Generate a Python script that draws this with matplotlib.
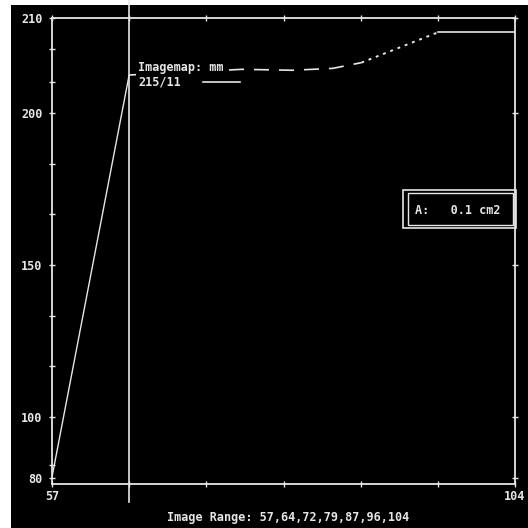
import numpy as np
import matplotlib
matplotlib.use('Agg')
import matplotlib.pyplot as plt
from matplotlib.patches import Rectangle
from matplotlib.lines import Line2D

# data
x_rise = [57, 64.83]
y_rise = [80.3, 204.0]
x_plateau = [64.83, 76.3, 81.4, 85.5, 88.4]
y_plateau = [204.0, 204.6, 204.5, 204.7, 205.3]
x_climb = [88.4, 96.2]
y_climb = [205.3, 208.5]
x_top = [96.2, 104]
y_top = [208.5, 208.5]

x_min, x_max = 57, 104
range_labels = [57, 64, 72, 79, 87, 96, 104]
y_major = [80, 100, 150, 200, 210]
y_minor = [84.3, 116.7, 133.3, 166.7, 183.3, 203.3, 206.7]

fg = '#e6e6e6'
mono = 'DejaVu Sans Mono'

# axis above 200 is stretched in the original
k = 3.125
def fwd(y):
    y = np.asarray(y, dtype=float)
    return np.where(y <= 200, y, 200 + (y - 200) * k)
def inv(u):
    u = np.asarray(u, dtype=float)
    return np.where(u <= 200, u, 200 + (u - 200) / k)

W = H = 528
fig = plt.figure(figsize=(5.28, 5.28), dpi=100, facecolor='white')
fig.add_artist(Rectangle((11 / W, 0), 1 - 11 / W, 1 - 5 / H,
                         transform=fig.transFigure, facecolor='black',
                         edgecolor='none', zorder=-10))

def fx(px):
    return px / W
def fy(px):
    return 1 - px / H

ax = fig.add_axes([fx(52), fy(484), fx(515) - fx(52), fy(18) - fy(484)])
ax.set_facecolor('black')
ax.set_yscale('function', functions=(fwd, inv))
ax.set_xlim(x_min, x_max)
ax.set_ylim(78, 210)

ax.plot(x_rise, y_rise, color=fg, lw=1.0)
ax.plot(x_plateau, y_plateau, color=fg, lw=1.2, dashes=(9, 6))
ax.plot(x_climb, y_climb, color=fg, lw=1.4, dashes=(1.5, 2.5))
ax.plot(x_top, y_top, color=fg, lw=1.2)

xt = np.linspace(x_min, x_max, 7)
ax.set_xticks(xt)
ax.set_xticklabels(['57', '', '', '', '', '', '104'])
ax.set_yticks(y_major)
ax.set_yticklabels([str(v) for v in y_major])
ax.set_yticks(y_minor, minor=True)

for s in ax.spines.values():
    s.set_color(fg)
    s.set_linewidth(1.3)

ax.tick_params(axis='both', which='both', colors=fg, direction='inout',
               length=4, width=1)
ax.tick_params(axis='x', top=True, labelsize=8.5, pad=2)
ax.tick_params(axis='y', right=True, labelsize=8.5, pad=5)
for lab in ax.get_xticklabels() + ax.get_yticklabels():
    lab.set_family(mono)
    lab.set_weight('bold')
    lab.set_color(fg)

# vertical marker line running past the frame
ax.axvline(xt[1], ymin=-0.039, ymax=1.04, color=fg, lw=1.2, clip_on=False)

# legend drawn by hand
fig.text(fx(138), fy(68), 'Imagemap: mm', fontsize=8.5, family=mono,
         weight='bold', color=fg, va='center', ha='left',
         bbox=dict(facecolor='black', edgecolor='none', pad=1.5))
fig.text(fx(138), fy(82), '215/11', fontsize=8.5, family=mono, weight='bold',
         color=fg, va='center', ha='left')
fig.add_artist(Line2D([fx(203), fx(240)], [fy(82), fy(82)], color=fg, lw=1.2,
                      transform=fig.transFigure))

# area box with double border
fig.add_artist(Rectangle((fx(403), fy(228)), fx(516) - fx(403), fy(190) - fy(228),
                         transform=fig.transFigure, facecolor='none',
                         edgecolor=fg, lw=1.2))
fig.add_artist(Rectangle((fx(408), fy(225)), fx(513) - fx(408), fy(193) - fy(225),
                         transform=fig.transFigure, facecolor='none',
                         edgecolor=fg, lw=1.0))
fig.text(fx(415), fy(211), 'A:   0.1 cm2', fontsize=8.5, family=mono,
         weight='bold', color=fg, va='center', ha='left')

fig.text(fx(288), fy(517),
         'Image Range: ' + ','.join(str(v) for v in range_labels),
         fontsize=8.5, family=mono, weight='bold', color=fg,
         ha='center', va='center')

fig.savefig('out.png', dpi=100, facecolor='white')
